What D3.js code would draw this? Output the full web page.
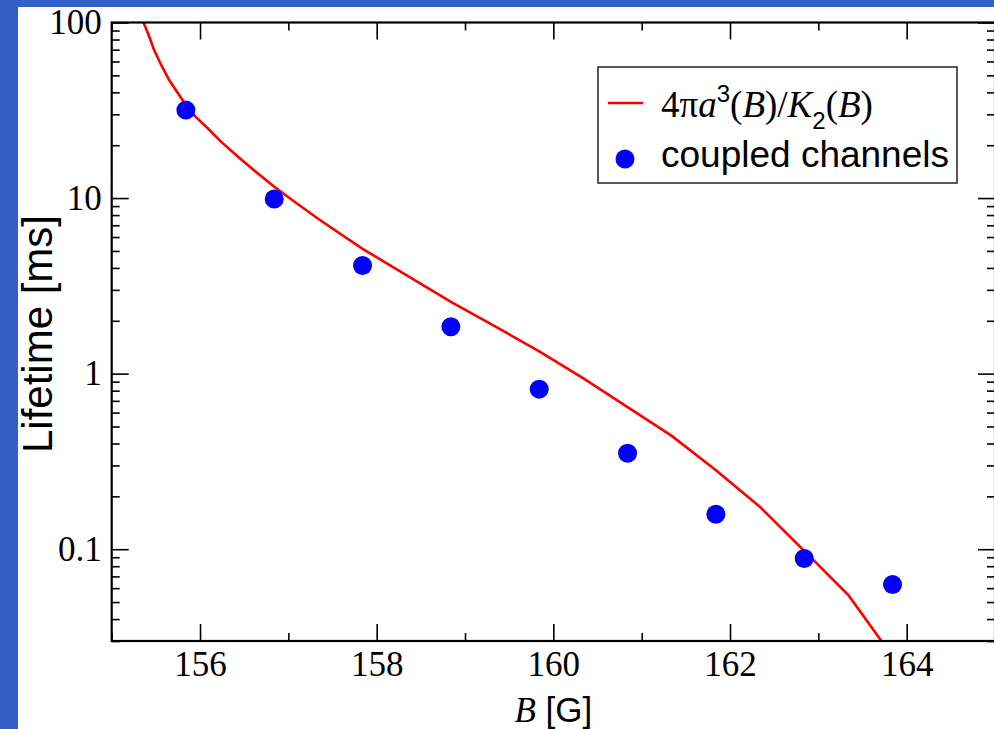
<!DOCTYPE html>
<html>
<head>
<meta charset="utf-8">
<script src="https://cdn.jsdelivr.net/npm/d3@7"></script>
<style>
  html, body { margin: 0; padding: 0; background: #335fc6; }
  svg { display: block; }
</style>
</head>
<body>
<svg id="chart" width="994" height="729"></svg>
<script>
// Field values (G) and lifetimes (ms) of the analytic estimate 4πa³/K₂
const curveField = [155.35, 155.41, 155.48, 155.56, 155.65, 155.75, 155.84, 155.95, 156.09,
  156.24, 156.43, 156.61, 156.84, 157.07, 157.34, 157.84, 158.34, 158.84, 159.34, 159.84,
  160.34, 160.84, 161.34, 161.84, 162.34, 162.84, 163.34, 163.84];
const curveLifetime = [103, 86.8, 69.7, 57.3, 47.0, 39.5, 33.9, 29.0, 24.9,
  20.9, 17.2, 14.4, 11.6, 9.53, 7.6, 5.14, 3.63, 2.56, 1.86, 1.34,
  0.94, 0.644, 0.442, 0.282, 0.174, 0.0978, 0.0547, 0.0245];

// Coupled-channels results
const ccField = [155.84, 156.84, 157.84, 158.84, 159.84, 160.84, 161.84, 162.84, 163.84];
const ccLifetime = [31.7, 9.87, 4.13, 1.85, 0.816, 0.352, 0.158, 0.0885, 0.0629];

// Axis ticks
const xMajor = [156, 158, 160, 162, 164];
const xMinor = [155, 157, 159, 161, 163, 165];
const yMajor = [0.1, 1, 10, 100];
const yMajorLabels = ["0.1", "1", "10", "100"];
const yMinor = [0.03, 0.04, 0.05, 0.06, 0.07, 0.08, 0.09,
  0.2, 0.3, 0.4, 0.5, 0.6, 0.7, 0.8, 0.9,
  2, 3, 4, 5, 6, 7, 8, 9,
  20, 30, 40, 50, 60, 70, 80, 90];

const svg = d3.select("#chart");
const W = 994, H = 729;

// page: blue backdrop with a white sheet
svg.append("rect").attr("width", W).attr("height", H).attr("fill", "#335fc6");
svg.append("rect").attr("x", 18).attr("y", 7).attr("width", W - 18).attr("height", H - 7).attr("fill", "#fff");

const plotLeft = 111.7, plotRight = 995, plotTop = 22.5, plotBottom = 641;
const x = d3.scaleLinear().domain([155, 165]).range([plotLeft, plotRight]);
const y = d3.scaleLog().domain([0.03, 100]).range([plotBottom, plotTop]);

const serif = "'Liberation Serif', 'Times New Roman', serif";
const sans = "'Liberation Sans', Arial, sans-serif";

svg.append("clipPath").attr("id", "plotclip")
  .append("rect").attr("x", plotLeft).attr("y", plotTop)
  .attr("width", plotRight - plotLeft).attr("height", plotBottom - plotTop);

// analytic curve
const line = d3.line().x((d, i) => x(curveField[i])).y((d, i) => y(curveLifetime[i]));
svg.append("path")
  .datum(curveLifetime)
  .attr("clip-path", "url(#plotclip)")
  .attr("d", line)
  .attr("fill", "none")
  .attr("stroke", "#ff0000")
  .attr("stroke-width", 2.6)
  .attr("stroke-linejoin", "miter");

// coupled-channel points
svg.append("g").selectAll("circle")
  .data(ccLifetime)
  .join("circle")
  .attr("cx", (d, i) => x(ccField[i]))
  .attr("cy", d => y(d))
  .attr("r", 9.5)
  .attr("fill", "#0000ff");

// axes: ticks point inward on all four sides
function styleAxis(g) {
  g.select(".domain").remove();
  g.selectAll(".tick line").attr("stroke", "#000").attr("stroke-width", 1.6);
  g.selectAll(".tick text").attr("fill", "#000").attr("font-family", serif).attr("font-size", 35);
}

svg.append("g").attr("transform", `translate(0,${plotBottom})`)
  .call(d3.axisBottom(x).tickValues(xMajor).tickSizeInner(-17).tickSizeOuter(0).tickPadding(10).tickFormat(d3.format("d")))
  .call(styleAxis);
svg.append("g").attr("transform", `translate(0,${plotBottom})`)
  .call(d3.axisBottom(x).tickValues(xMinor).tickSizeInner(-8).tickSizeOuter(0).tickFormat(""))
  .call(styleAxis);
svg.append("g").attr("transform", `translate(0,${plotTop})`)
  .call(d3.axisTop(x).tickValues(xMajor).tickSizeInner(-17).tickSizeOuter(0).tickFormat(""))
  .call(styleAxis);
svg.append("g").attr("transform", `translate(0,${plotTop})`)
  .call(d3.axisTop(x).tickValues(xMinor).tickSizeInner(-8).tickSizeOuter(0).tickFormat(""))
  .call(styleAxis);

svg.append("g").attr("transform", `translate(${plotLeft},0)`)
  .call(d3.axisLeft(y).tickValues(yMajor).tickSizeInner(-17).tickSizeOuter(0).tickPadding(10)
    .tickFormat((d, i) => yMajorLabels[i]))
  .call(styleAxis);
svg.append("g").attr("transform", `translate(${plotLeft},0)`)
  .call(d3.axisLeft(y).tickValues(yMinor).tickSizeInner(-8).tickSizeOuter(0).tickFormat(""))
  .call(styleAxis);
svg.append("g").attr("transform", `translate(${plotRight},0)`)
  .call(d3.axisRight(y).tickValues(yMajor).tickSizeInner(-17).tickSizeOuter(0).tickFormat(""))
  .call(styleAxis);
svg.append("g").attr("transform", `translate(${plotRight},0)`)
  .call(d3.axisRight(y).tickValues(yMinor).tickSizeInner(-8).tickSizeOuter(0).tickFormat(""))
  .call(styleAxis);

// plot frame
svg.append("rect")
  .attr("x", plotLeft).attr("y", plotTop)
  .attr("width", plotRight - plotLeft).attr("height", plotBottom - plotTop)
  .attr("fill", "none").attr("stroke", "#000").attr("stroke-width", 2.2);

// axis titles
const xt = svg.append("text")
  .attr("x", (plotLeft + plotRight) / 2).attr("y", 722)
  .attr("text-anchor", "middle").attr("font-size", 35).attr("fill", "#000");
xt.append("tspan").attr("font-family", serif).attr("font-style", "italic").text("B");
xt.append("tspan").attr("font-family", sans).text(" [G]");

svg.append("text")
  .attr("transform", "translate(51.5,334) rotate(-90)")
  .attr("text-anchor", "middle")
  .attr("font-family", sans).attr("font-size", 42).attr("fill", "#000")
  .text("Lifetime [ms]");

// legend
const lg = svg.append("g");
lg.append("rect").attr("x", 598).attr("y", 67).attr("width", 359).attr("height", 116)
  .attr("fill", "#fff").attr("stroke", "#222").attr("stroke-width", 1.5);
lg.append("line").attr("x1", 608).attr("x2", 643).attr("y1", 103).attr("y2", 103)
  .attr("stroke", "#ff0000").attr("stroke-width", 2.6);
lg.append("circle").attr("cx", 625).attr("cy", 159).attr("r", 9.5).attr("fill", "#0000ff");

const f = lg.append("text").attr("x", 661).attr("y", 117)
  .attr("font-family", serif).attr("font-size", 37).attr("fill", "#000");
f.append("tspan").text("4π");
f.append("tspan").attr("font-style", "italic").text("a");
f.append("tspan").attr("font-family", sans).attr("font-size", 24).attr("dy", -15).text("3");
f.append("tspan").attr("dy", 15).text("(");
f.append("tspan").attr("font-style", "italic").text("B");
f.append("tspan").text(")/");
f.append("tspan").attr("font-style", "italic").text("K");
f.append("tspan").attr("font-family", sans).attr("font-size", 24).attr("dy", 12).text("2");
f.append("tspan").attr("dy", -12).text("(");
f.append("tspan").attr("font-style", "italic").text("B");
f.append("tspan").text(")");

lg.append("text").attr("x", 661).attr("y", 167)
  .attr("font-family", sans).attr("font-size", 37).attr("fill", "#000")
  .text("coupled channels");
</script>
</body>
</html>
